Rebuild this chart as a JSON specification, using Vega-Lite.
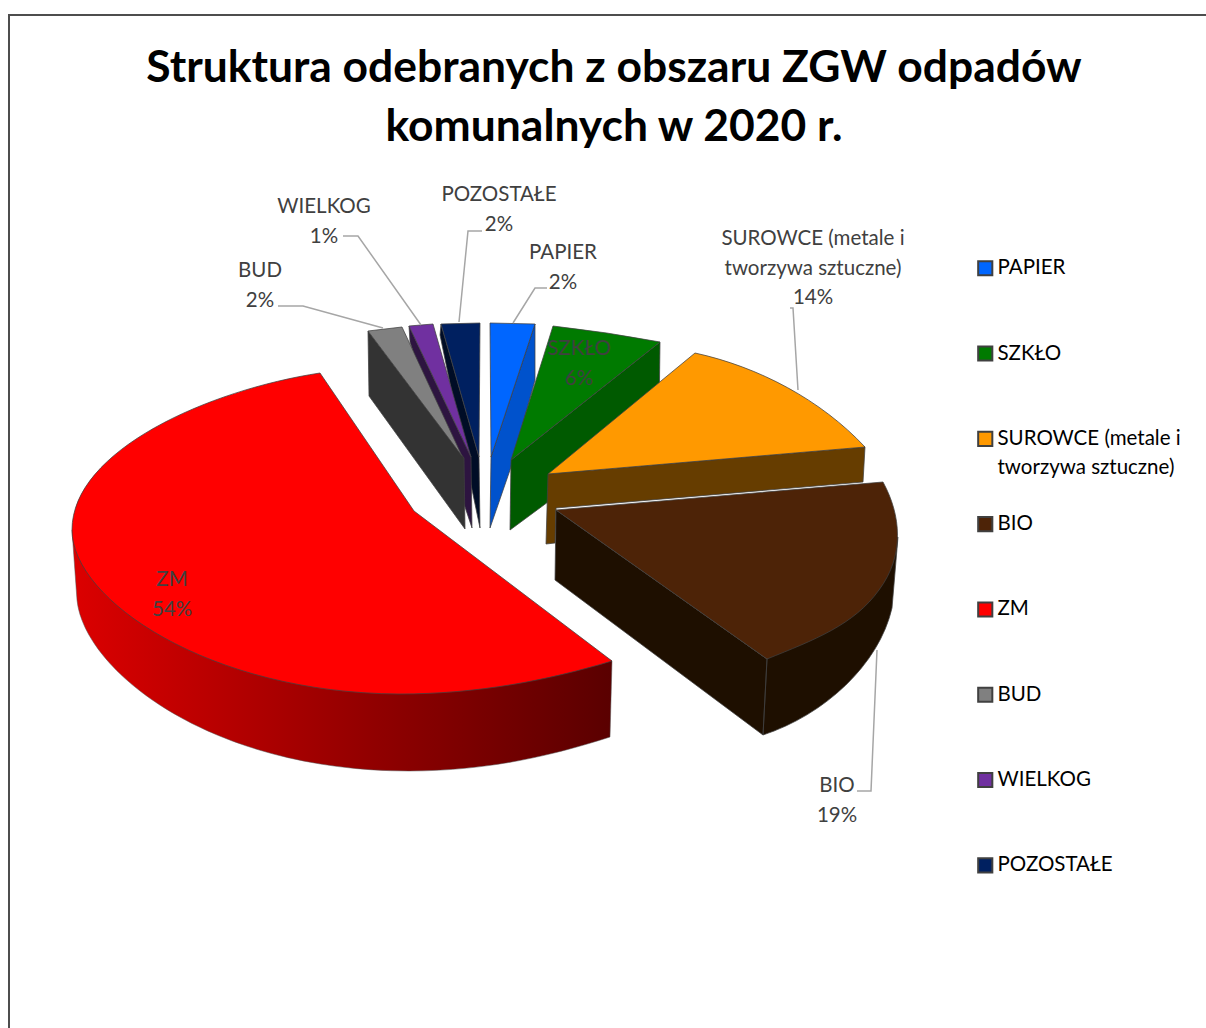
{
"$schema":"https://vega.github.io/schema/vega-lite/v6.json",
"width":1200,"height":1020,
"autosize":"none",
"padding":{"left":9,"top":15,"right":0,"bottom":0},
"background":"#ffffff",
"view":{"stroke":"#4d4d4d","strokeWidth":2,"fill":"#ffffff"},
"title":{"text":["Struktura odebranych z obszaru ZGW odpadów","komunalnych w 2020 r."],"font":"Lato","fontWeight":"bold","fontSize":44.4,"lineHeight":59,"color":"#000000","anchor":"middle","frame":"group","baseline":"top","offset":-135,"dx":5},
"data":{"values":[
{"slice":"POZOSTAŁE","share":2,"label":"POZOSTAŁE|2%"},
{"slice":"WIELKOG","share":1,"label":"WIELKOG|1%"},
{"slice":"BUD","share":2,"label":"BUD|2%"},
{"slice":"PAPIER","share":2,"label":"PAPIER|2%"},
{"slice":"SZKŁO","share":6,"label":"SZKŁO|6%"},
{"slice":"SUROWCE (metale i tworzywa sztuczne)","share":14,"label":"SUROWCE (metale i|tworzywa sztuczne)|14%"},
{"slice":"BIO","share":19,"label":"BIO|19%"},
{"slice":"ZM","share":54,"label":"ZM|54%"}
]},
"resolve":{"scale":{"shape":"independent","color":"independent"}},
"layer":[
{"transform":[{"filter":"datum.slice!='ZM'"}],
"mark":{"type":"point","filled":true,"opacity":1,"size":4,"stroke":"#404040","strokeWidth":0.75},
"encoding":{
"shape":{"field":"slice","type":"nominal","legend":null,"scale":{"domain":["PAPIER","SZKŁO","SUROWCE (metale i tworzywa sztuczne)","BIO","BUD","WIELKOG","POZOSTAŁE"],"range":[
"M-74,-201 L-74,-145 L-99,-55 L-119,3 L-118,-68 Z",
"M51,-183 L50,-105 L-99,5 L-98,-65 Z",
"M-61,-51 L256,-78 L254,-43 L-53,-17 L-54,18 L-63,19 Z",
"M-53,-15 L158,134 L154,210 L-54,55 Z M154,210 C215,190 270,140 283,83 L289,12 L158,134 Z",
"M-241,-194 L-145,-67 L-144,4 L-240,-129 Z",
"M-200,-199 L-138,-68 L-137,3 L-199,-183 Z",
"M-168,-201 L-130,-68 L-129,3 L-169,-190 Z"]}},
"color":{"field":"slice","type":"nominal","legend":null,"scale":{"domain":["PAPIER","SZKŁO","SUROWCE (metale i tworzywa sztuczne)","BIO","BUD","WIELKOG","POZOSTAŁE"],"range":["#0052cc","#005a00","#663d00","#1e0f00","#333333","#2d1440","#000d26"]}}
}},
{"transform":[{"filter":"datum.slice=='ZM'"}],
"mark":{"type":"point","filled":true,"opacity":1,"size":4,"stroke":"#555555","strokeWidth":0.5,"fill":{"gradient":"linear","x1":0,"y1":0,"x2":1,"y2":0,"stops":[{"offset":0,"color":"#dc0000"},{"offset":0.55,"color":"#920000"},{"offset":1,"color":"#5a0000"}]}},
"encoding":{
"shape":{"field":"slice","type":"nominal","legend":null,"scale":{"domain":["ZM"],"range":["M-537,5 L-532,75 C-525,145 -400,246 -200,246 C-120,246 -55,230 1,212 L3,136 L-195,50 Z"]}}
}},
{"mark":{"type":"point","filled":true,"opacity":1,"size":4,"stroke":"#404040","strokeWidth":0.75},
"encoding":{
"shape":{"field":"slice","type":"nominal","legend":null,"scale":{"domain":["PAPIER","SZKŁO","SUROWCE (metale i tworzywa sztuczne)","BIO","ZM","BUD","WIELKOG","POZOSTAŁE"],"range":[
"M-119,-202 L-74,-201 L-118,-68 Z",
"M-56,-199 Q-2,-193 51,-183 L-98,-65 Z",
"M-61,-51 L86,-172 C150,-158 212,-125 256,-78 Z",
"M-53,-15 L274,-43 C292,-10 296,30 270,65 C245,100 205,115 158,134 Z",
"M-289,-152 C-400,-135 -537,-75 -537,5 C-537,75 -400,168 -210,169 C-130,169 -60,155 3,136 L-195,-14 Z",
"M-241,-194 L-207,-198 L-147,-69 Z",
"M-200,-199 L-176,-201 L-138,-68 Z",
"M-168,-201 L-129,-202 L-130,-68 Z"]}},
"color":{"field":"slice","type":"nominal","legend":null,"scale":{"domain":["PAPIER","SZKŁO","SUROWCE (metale i tworzywa sztuczne)","BIO","ZM","BUD","WIELKOG","POZOSTAŁE"],"range":["#0066ff","#007a00","#ff9900","#4d2307","#ff0000","#808080","#7030a0","#002060"]}}
}},
{"transform":[{"filter":"datum.slice!='ZM'&&datum.slice!='SZKŁO'"}],
"mark":{"type":"point","filled":false,"opacity":1,"size":4,"stroke":"#a6a6a6","strokeWidth":1.5},
"encoding":{
"shape":{"field":"slice","type":"nominal","legend":null,"scale":{"domain":["PAPIER","SUROWCE (metale i tworzywa sztuczne)","BIO","BUD","WIELKOG","POZOSTAŁE"],"range":[
"M-62,-237 L-74,-237 L-96,-202",
"M181,-217 L184,-217 L189,-135",
"M248,266 L262,266 L268,125",
"M-331,-219 L-306,-219 L-226,-197",
"M-266,-289 L-251,-289 L-188,-200",
"M-127,-294 L-141,-294 L-150,-203"]}}
}},
{"mark":{"type":"text","font":"Lato","fontSize":20.5,"color":"#404040","align":"center","baseline":"top","lineBreak":"|","lineHeight":29.5,
"dx":{"expr":"{'PAPIER':-46,'SZKŁO':-30,'SUROWCE (metale i tworzywa sztuczne)':204,'BIO':228,'ZM':-437,'BUD':-349,'WIELKOG':-285,'POZOSTAŁE':-110}[datum.slice]"},
"dy":{"expr":"{'PAPIER':-282,'SZKŁO':-186,'SUROWCE (metale i tworzywa sztuczne)':-296,'BIO':251,'ZM':45,'BUD':-264,'WIELKOG':-328,'POZOSTAŁE':-340}[datum.slice]"}},
"encoding":{"text":{"field":"label","type":"nominal"}}
},
{"mark":{"type":"point","filled":true,"size":0,"opacity":1},
"encoding":{
"color":{"field":"slice","type":"nominal","scale":{"domain":["PAPIER","SZKŁO","SUROWCE (metale i tworzywa sztuczne)","BIO","ZM","BUD","WIELKOG","POZOSTAŁE"],"range":["#0066ff","#007a00","#ff9900","#4d2307","#ff0000","#808080","#7030a0","#002060"]},
"legend":{"title":null,"orient":"none","legendX":966,"legendY":243,"symbolType":"square","symbolSize":200,"symbolStrokeColor":"#404040","symbolStrokeWidth":2,"symbolOpacity":1,"labelFont":"Lato","labelFontSize":20.5,"labelColor":"#000000","labelLimit":300,"labelOffset":2,"rowPadding":34.3,"gridAlign":"all","columns":1,"labelExpr":"datum.label=='SUROWCE (metale i tworzywa sztuczne)'?['SUROWCE (metale i','tworzywa sztuczne)']:datum.label","encode":{"labels":{"update":{"lineHeight":{"value":29}}}}}}
}}
]
}
